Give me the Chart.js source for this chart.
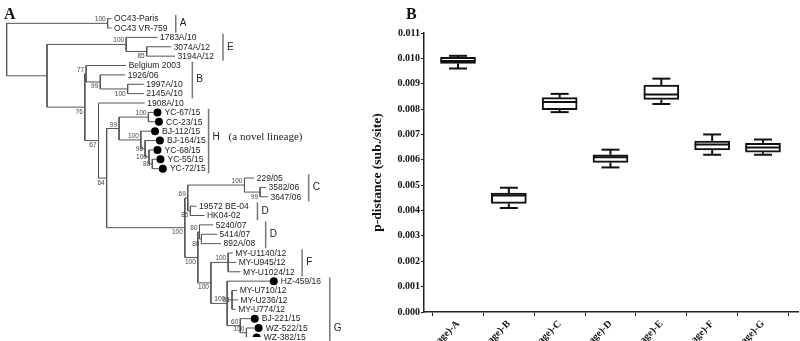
<!DOCTYPE html>
<html>
<head>
<meta charset="utf-8">
<script src="https://cdn.jsdelivr.net/npm/chart.js@4.4.1/dist/chart.umd.min.js"></script>
<style>
    html, body { margin: 0; padding: 0; background: #fff; }
    #wrap { position: relative; width: 800px; height: 341px; overflow: hidden; }
    #treeBox { position: absolute; left: 0; top: 0; width: 355px; height: 341px; }
    #boxBox { position: absolute; left: 355px; top: 0; width: 445px; height: 341px; }
</style>
</head>
<body>
<div id="wrap">
    <div id="treeBox"><canvas id="treeChart"></canvas></div>
    <div id="boxBox"><canvas id="boxChart"></canvas></div>
</div>
<script>
// ---- Panel A: tree data (leaf order = row index) ----
const leafNames = [
    'OC43-Paris', 'OC43 VR-759', '1783A/10', '3074A/12', '3194A/12',
    'Belgium 2003', '1926/06', '1997A/10', '2145A/10', '1908A/10',
    'YC-67/15', 'CC-23/15', 'BJ-112/15', 'BJ-164/15', 'YC-68/15', 'YC-55/15', 'YC-72/15',
    '229/05', '3582/06', '3647/06', '19572 BE-04', 'HK04-02',
    '5240/07', '5414/07', '892A/08',
    'MY-U1140/12', 'MY-U945/12', 'MY-U1024/12', 'HZ-459/16',
    'MY-U710/12', 'MY-U236/12', 'MY-U774/12', 'BJ-221/15', 'WZ-522/15', 'WZ-382/15'
];
// depth of each leaf tip
const leafTips = [
    110, 110, 157, 171, 175,
    125, 124, 143, 143, 144,
    153.5, 155, 151, 156, 153.5, 156.5, 159,
    256, 268, 270, 197, 205,
    214, 218, 222,
    234, 237.5, 242, 272.5,
    238.5, 239.5, 237, 253, 257, 255
];
// leaves marked with a black dot
const markedLeaves = [10, 11, 12, 13, 14, 15, 16, 28, 32, 33, 34];

// internal nodes: name, depth, children (number = leaf row), bootstrap
const nodeNames = ['root', 'A', 'N1', 'E', 'E2', 'N2', 'B', 'B2', 'B3', 'N3', 'N4', 'H', 'H1', 'H2', 'H3', 'H4', 'H5',
    'N5', 'N6', 'C', 'C2', 'D1', 'N8', 'D2', 'D2b', 'N9', 'F', 'G', 'G3', 'G4', 'G5'];
const nodeDepth = [2.7, 106, 44, 125, 146, 82.7, 84, 98.5, 126.5, 96.7, 105, 117.7, 147.7, 140, 144.3, 148.3, 151.7,
    185, 188, 246, 262, 190.7, 198.3, 200, 202, 211.7, 229.3, 228.3, 233.3, 241.7, 248];
const nodeKids = [
    ['A', 'N1'], [0, 1], ['E', 'N2'], [2, 'E2'], [3, 4], ['B', 'N3'], [5, 'B2'], [6, 'B3'], [7, 8],
    [9, 'N4'], ['H', 'N5'], ['H1', 'H2'], [10, 11], [12, 'H3'], [13, 'H4'], [14, 'H5'], [15, 16],
    ['N6', 'N8'], ['C', 'D1'], [17, 'C2'], [18, 19], [20, 21], ['D2', 'N9'], [22, 'D2b'], [23, 24],
    ['F', 'G'], [25, 26, 27], [28, 'G3', 'G4'], [29, 30, 31], [32, 'G5'], [33, 34]
];
const nodeSupport = [null, 100, null, 100, 85, 76, 77, 99, 100, 67, 64, 99, 100, 100, 98, 100, 88,
    100, 69, 100, 99, 85, 100, 80, 80, 100, 100, 100, 81, 60, 100];
// where the support value sits: a = above, b = below, c = centred
const supportPlace = ['a', 'a', 'a', 'a', 'b', 'b', 'a', 'b', 'b', 'b', 'b', 'a', 'a', 'a', 'c', 'c', 'c',
    'b', 'a', 'a', 'b', 'b', 'b', 'a', 'b', 'b', 'a', 'a', 'c', 'a', 'a'];

// clade brackets
const cladeNames = ['A', 'E', 'B', 'H', 'C', 'D', 'D', 'F', 'G'];
const cladeNotes = ['', '', '', '(a novel lineage)', '', '', '', '', ''];
const cladeFirst = [0, 2, 5, 10, 17, 20, 22, 25, 28];
const cladeLast = [1, 4, 8, 16, 19, 21, 24, 27, 36];
const cladeLabelRow = [0.5, 3, 6.5, 12.6, 18, 20.5, 23, 26, 33];
const cladeBarX = [175.7, 224, 192.7, 209.3, 311.7, 259.3, 267.7, 305, 333.3];

// ---- Panel B: box plot data ----
const lineages = ['(lineage)-A', '(lineage)-B', '(lineage)-C', '(lineage)-D', '(lineage)-E', '(lineage)-F', '(lineage)-G'];
const boxMin = [0.00960, 0.00410, 0.00788, 0.00570, 0.00820, 0.00620, 0.00620];
const boxQ1 = [0.00980, 0.00428, 0.00798, 0.00590, 0.00838, 0.00639, 0.00630];
const boxMedian = [0.00990, 0.00459, 0.00828, 0.00610, 0.00858, 0.00660, 0.00649];
const boxQ3 = [0.01004, 0.00469, 0.00845, 0.00620, 0.00895, 0.00674, 0.00665];
const boxMax = [0.01010, 0.00490, 0.00860, 0.00640, 0.00920, 0.00700, 0.00680];
const yTicks = [0, 0.001, 0.002, 0.003, 0.004, 0.005, 0.006, 0.007, 0.008, 0.009, 0.010, 0.011];

// ---- build the tree segments ----
const nodeIndex = {};
nodeNames.forEach((n, i) => nodeIndex[n] = i);

function rowOf(k) {
    if (typeof k === 'number') return k;
    const kids = nodeKids[nodeIndex[k]].map(rowOf);
    return (kids[0] + kids[kids.length - 1]) / 2;
}
function depthOf(k) {
    return typeof k === 'number' ? leafTips[k] : nodeDepth[nodeIndex[k]];
}

const branchData = [];
nodeNames.forEach((n, i) => {
    const x = nodeDepth[i];
    const rows = nodeKids[i].map(rowOf);
    branchData.push({x: x, y: rows[0]}, {x: x, y: rows[rows.length - 1]}, {x: x, y: null});
    nodeKids[i].forEach((k, j) => {
        branchData.push({x: x, y: rows[j]}, {x: depthOf(k), y: rows[j]}, {x: x, y: null});
    });
});

const dotData = markedLeaves.map(i => ({x: leafTips[i] + 3.5, y: i}));

const treeText = {
    id: 'treeText',
    afterDatasetsDraw(chart) {
        const {ctx, scales: {x, y}} = chart;
        ctx.save();

        // leaf names
        ctx.fillStyle = '#222';
        ctx.font = '8.5px "Liberation Sans", Arial, sans-serif';
        ctx.textAlign = 'left';
        ctx.textBaseline = 'middle';
        leafNames.forEach((name, i) => {
            const off = markedLeaves.includes(i) ? 10.5 : 2.5;
            ctx.fillText(name, x.getPixelForValue(leafTips[i]) + off, y.getPixelForValue(i) + 0.5);
        });

        // bootstrap values
        ctx.fillStyle = '#444';
        ctx.font = '6.5px "Liberation Sans", Arial, sans-serif';
        ctx.textAlign = 'right';
        nodeNames.forEach((n, i) => {
            if (nodeSupport[i] == null) return;
            const px = x.getPixelForValue(nodeDepth[i]) - 2;
            const py = y.getPixelForValue(rowOf(n));
            if (supportPlace[i] === 'a') {
                ctx.textBaseline = 'bottom';
                ctx.fillText(nodeSupport[i], px, py - 0.5);
            } else if (supportPlace[i] === 'b') {
                ctx.textBaseline = 'top';
                ctx.fillText(nodeSupport[i], px, py + 1.5);
            } else {
                ctx.textBaseline = 'middle';
                ctx.fillText(nodeSupport[i], px, py);
            }
        });

        // clade brackets and letters
        ctx.strokeStyle = '#777';
        ctx.lineWidth = 1.5;
        ctx.textAlign = 'left';
        ctx.textBaseline = 'middle';
        cladeNames.forEach((c, i) => {
            const bx = x.getPixelForValue(cladeBarX[i]);
            ctx.beginPath();
            ctx.moveTo(bx, y.getPixelForValue(cladeFirst[i] - 0.4));
            ctx.lineTo(bx, y.getPixelForValue(cladeLast[i] + 0.5));
            ctx.stroke();
            const ly = y.getPixelForValue(cladeLabelRow[i]);
            ctx.fillStyle = '#222';
            ctx.font = '10px "Liberation Sans", Arial, sans-serif';
            ctx.fillText(c, bx + 4, ly);
            if (cladeNotes[i]) {
                ctx.font = '11px "Liberation Serif", "Times New Roman", serif';
                ctx.fillText(cladeNotes[i], bx + 20, ly);
            }
        });

        // panel letter
        ctx.fillStyle = '#111';
        ctx.font = 'bold 16px "Liberation Serif", "Times New Roman", serif';
        ctx.textBaseline = 'alphabetic';
        ctx.fillText('A', 4, 19);
        ctx.restore();
    }
};

const treeChart = new Chart(document.getElementById('treeChart'), {
    type: 'scatter',
    data: {
        datasets: [{
            data: branchData,
            showLine: true,
            spanGaps: false,
            borderColor: '#555',
            borderWidth: 1,
            pointRadius: 0
        }, {
            data: dotData,
            pointRadius: 4,
            pointBackgroundColor: '#000',
            pointBorderWidth: 0
        }]
    },
    options: {
        responsive: true,
        maintainAspectRatio: false,
        animation: false,
        layout: {padding: 0},
        plugins: {legend: {display: false}, tooltip: {enabled: false}},
        scales: {
            x: {type: 'linear', display: false, min: 0, max: 355},
            y: {type: 'linear', display: false, min: -1.5625, max: 33.958, reverse: true}
        }
    },
    plugins: [treeText]
});

// ---- Panel B ----
const whiskers = {
    id: 'whiskers',
    afterDatasetsDraw(chart) {
        const {ctx, scales: {x, y}} = chart;
        ctx.save();
        ctx.strokeStyle = '#111';
        ctx.lineWidth = 2;
        lineages.forEach((c, i) => {
            const cx = x.getPixelForValue(i + 1);
            const seg = (x1, y1, x2, y2) => {
                ctx.beginPath();
                ctx.moveTo(x1, y1);
                ctx.lineTo(x2, y2);
                ctx.stroke();
            };
            const yMin = y.getPixelForValue(boxMin[i]);
            const yMax = y.getPixelForValue(boxMax[i]);
            seg(cx, y.getPixelForValue(boxQ3[i]), cx, yMax);
            seg(cx, y.getPixelForValue(boxQ1[i]), cx, yMin);
            seg(cx - 9, yMax, cx + 9, yMax);
            seg(cx - 9, yMin, cx + 9, yMin);
            const ym = y.getPixelForValue(boxMedian[i]);
            seg(cx - 17.5, ym, cx + 17.5, ym);
        });
        ctx.fillStyle = '#111';
        ctx.font = 'bold 16px "Liberation Serif", "Times New Roman", serif';
        ctx.fillText('B', 51, 19);
        ctx.restore();
    }
};

const serifBold = {family: '"Liberation Serif", "Times New Roman", serif', weight: 'bold', size: 10};

const boxChart = new Chart(document.getElementById('boxChart'), {
    type: 'bar',
    data: {
        datasets: [{
            data: lineages.map((c, i) => ({x: i + 1, y: [boxQ1[i], boxQ3[i]]})),
            backgroundColor: '#fff',
            borderColor: '#111',
            borderWidth: 2,
            borderSkipped: false,
            barThickness: 35
        }]
    },
    options: {
        responsive: true,
        maintainAspectRatio: false,
        animation: false,
        layout: {padding: {left: 10, top: 33, right: 2, bottom: 0}},
        plugins: {legend: {display: false}, tooltip: {enabled: false}},
        scales: {
            x: {
                type: 'linear',
                min: 0.331,
                max: 7.689,
                offset: false,
                border: {color: '#222', width: 1.5},
                grid: {drawOnChartArea: false, color: '#222', tickLength: 4},
                afterBuildTicks: scale => { scale.ticks = lineages.map((c, i) => ({value: i + 1})); },
                afterFit: scale => { scale.height = 29; scale.paddingLeft = 0; scale.paddingRight = 0; },
                ticks: {
                    autoSkip: false,
                    minRotation: 45,
                    maxRotation: 45,
                    padding: 2,
                    color: '#111',
                    font: serifBold,
                    callback: v => lineages[Math.round(v) - 1]
                }
            },
            y: {
                min: 0,
                max: 0.011,
                border: {color: '#222', width: 1.5},
                grid: {drawOnChartArea: false, color: '#222', tickLength: 3},
                afterBuildTicks: scale => { scale.ticks = yTicks.map(v => ({value: v})); },
                afterFit: scale => { scale.width = 59; scale.paddingTop = 0; scale.paddingBottom = 0; },
                ticks: {
                    padding: 1,
                    color: '#111',
                    font: serifBold,
                    callback: v => v.toFixed(3)
                },
                title: {
                    display: true,
                    text: 'p-distance (sub./site)',
                    color: '#111',
                    font: {family: '"Liberation Serif", "Times New Roman", serif', weight: 'bold', size: 13.5}
                }
            }
        }
    },
    plugins: [whiskers]
});
</script>
</body>
</html>
